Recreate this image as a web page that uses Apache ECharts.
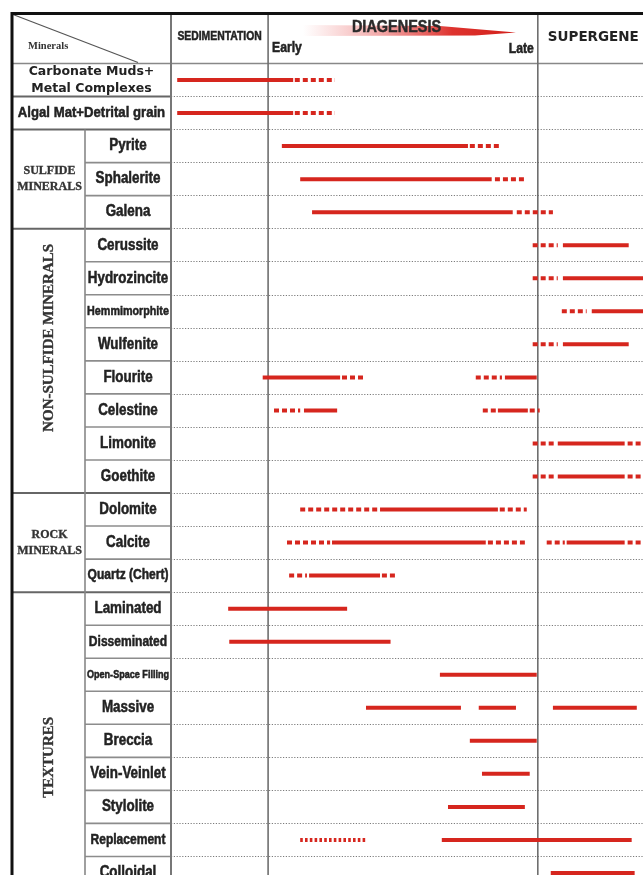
<!DOCTYPE html>
<html><head><meta charset="utf-8">
<script src="https://cdn.jsdelivr.net/npm/echarts@6/dist/echarts.min.js"></script>
<style>html,body{margin:0;padding:0;background:#fff;overflow:hidden;}#c{width:643px;height:875px;}</style>
</head><body><div id="c"></div>
<script>
// ---- DATA ----
// rows of the paragenetic table (top to bottom)
const categories = ['Carbonate Muds+\nMetal Complexes','Algal Mat+Detrital grain','Pyrite','Sphalerite','Galena',
  'Cerussite','Hydrozincite','Hemmimorphite','Wulfenite','Flourite','Celestine','Limonite','Goethite',
  'Dolomite','Calcite','Quartz (Chert)',
  'Laminated','Disseminated','Open-Space Filling','Massive','Breccia','Vein-Veinlet','Stylolite','Replacement','Colloidal'];
// mineral groups (row index ranges; Textures continues below the picture)
const groupNames = ['SULFIDE\nMINERALS','NON-SULFIDE MINERALS','ROCK\nMINERALS','TEXTURES'];
const groupFrom  = [2, 5, 13, 16];
const groupTo    = [4, 12, 15, 25];
// stages; relative time scale: 0 = early diagenesis, 100 = late diagenesis
const stages = ['SEDIMENTATION','DIAGENESIS','SUPERGENE'];
const stageBounds = [0, 100];
const diageneticSubLabels = ['Early','Late'];
// timing segments per row: [start, end, kind]  s = certain (solid), d = uncertain (dashed), o = dotted
const timing = [
  [[-33.7,9.3,'s'],[9.9,24.8,'d']],
  [[-33.7,9.3,'s'],[9.9,24.8,'d']],
  [[5.1,74.1,'s'],[74.8,85.9,'d']],
  [[11.9,82.9,'s'],[84.1,95.9,'d']],
  [[16.3,90.7,'s'],[92.2,105.6,'d']],
  [[98.1,107.4,'d'],[109.3,133.7,'s']],
  [[98.1,107.4,'d'],[109.3,140,'s']],
  [[108.9,118.1,'d'],[120,140,'s']],
  [[98.1,107.4,'d'],[109.3,133.7,'s']],
  [[-2,26.7,'s'],[27.4,35.9,'d'],[77,86.7,'d'],[87.8,99.6,'s']],
  [[2.2,11.9,'d'],[13.3,25.6,'s'],[79.6,84.8,'d'],[85.2,96.3,'s'],[97,100.7,'d']],
  [[98.1,107,'d'],[107.4,132.2,'s'],[133.3,140,'d']],
  [[98.1,107,'d'],[107.4,132.2,'s'],[133.3,140,'d']],
  [[11.9,40.7,'d'],[41.5,85.2,'s'],[85.9,95.9,'d']],
  [[7,23,'d'],[23.7,80.7,'s'],[81.5,95.2,'d'],[103.3,110,'d'],[110.7,132.2,'s'],[133.3,140,'d']],
  [[7.8,14.4,'d'],[15.2,41.5,'s'],[42.2,48.1,'d']],
  [[-14.8,29.3,'s']],
  [[-14.4,45.4,'s']],
  [[63.7,99.6,'s']],
  [[36.3,71.5,'s'],[78.1,91.9,'s'],[105.6,136.7,'s']],
  [[74.8,99.6,'s']],
  [[79.3,97,'s']],
  [[66.7,95.2,'s']],
  [[11.9,36.7,'o'],[64.4,134.8,'s']],
  [[104.8,135.9,'s']]
];

// ---- STYLE ----
const RED = '#d6261e';
const ARIAL = "'Liberation Sans','Arial',sans-serif";
const SANSB = "'DejaVu Sans','Verdana',sans-serif";
const SERIF = "'Liberation Serif','DejaVu Serif','Times New Roman',serif";
const kindCode = {s:0, d:1, o:2};
const DASH = [null, [5,3], [2.6,2.2]];
// label styles: [family, size, horizontal condensing]
const LS = {
  big:[SANSB, 12.5, 1], wide:[ARIAL, 15.3, 0.86], m:[ARIAL, 15.6, 0.86],
  s:[ARIAL, 14, 0.86], xs:[ARIAL, 12.5, 0.86], xxs:[ARIAL, 10.8, 0.84]
};
const labelStyleOf = {
  'Carbonate Muds+\nMetal Complexes':'big', 'Algal Mat+Detrital grain':'wide',
  'Hemmimorphite':'xs', 'Open-Space Filling':'xxs', 'Disseminated':'s', 'Replacement':'s', 'Quartz (Chert)':'s'
};
const groupYShift = [0, -23, 0, 0];

const segData = [];
timing.forEach((row, i) => row.forEach(s => segData.push([s[0], s[1], i, kindCode[s[2]]])));

const chart = echarts.init(document.getElementById('c'), null, {renderer:'canvas'});
const option = {
  backgroundColor:'#fff',
  animation:false,
  grid:{left:171, top:63.5, width:472, height:25*33.04, outerBoundsMode:'none', containLabel:false},
  xAxis:{type:'value', min:-36, max:139, show:false},
  yAxis:{type:'category', inverse:true, data:categories,
    axisLine:{show:false}, axisTick:{show:false}, axisLabel:{show:false},
    splitLine:{show:true, interval:0, lineStyle:{color:'#7c7c7c', width:1.2, type:[1.2,1.6]}}
  },
  series:[{
    type:'custom', z:5, clip:true, data:segData, encode:{x:[0,1], y:2},
    renderItem:(params, api) => {
      const r = api.value(2);
      const p1 = api.coord([api.value(0), r]);
      const p2 = api.coord([api.value(1), r]);
      const k = api.value(3);
      return {type:'line', shape:{x1:p1[0], y1:p1[1], x2:p2[0], y2:p2[1]},
        style:{stroke:RED, lineWidth:4, lineDash:DASH[k], lineCap:'butt'}};
    }
  }]
};
chart.setOption(option);

// ---- table structure from the axes ----
const yc = i => chart.convertToPixel({yAxisIndex:0}, i);
const xc = v => chart.convertToPixel({xAxisIndex:0}, v);
const rowH = yc(1) - yc(0);
const top0 = yc(0) - rowH/2;
const bound = i => top0 + i*rowH;
const L = 12, C1 = 85, C2 = 171, R = 643, T = 13.5, B = 875;
const xs0 = xc(stageBounds[0]), xs1 = xc(stageBounds[1]);
const G = [];
const line = (x1,y1,x2,y2,stroke,w,z) => G.push({type:'line', z:z||1, silent:true,
  shape:{x1,y1,x2,y2}, style:{stroke, lineWidth:w}});
const txt = (x, y, text, fam, size, sx, align, extra) => {
  const fill = (extra && extra.fill) || '#222';
  const st = {text, fontFamily:fam, fontWeight:'bold', fontSize:size, fill, align:align||'center', verticalAlign:'middle'};
  if (fam === ARIAL) { st.stroke = fill; st.lineWidth = 0.5; }
  G.push({type:'text', z:3, x, y, scaleX:sx, style:Object.assign(st, extra||{})});
};
const groupStarts = [1].concat(groupFrom);
for (let i = 1; i < categories.length; i++) {
  if (groupStarts.includes(i)) line(L, bound(i), C2, bound(i), '#666', 2);
  else line(C1, bound(i), C2, bound(i), '#8c8c8c', 1.6);
}
line(L, top0, R, top0, '#888', 1.6);
line(C1, bound(groupFrom[0]), C1, B, '#888', 1.6);
line(C2, T, C2, B, '#777', 2);
line(xs0, T, xs0, B, '#6e6e6e', 1.6);
line(xs1, T, xs1, B, '#6e6e6e', 1.6);
line(L+1, T+1, 138, top0-1, '#555', 1.2);
line(L, T, R, T, '#111', 3, 10);
line(L, T-1.5, L, B, '#111', 3, 10);
// row labels
categories.forEach((c, i) => {
  const st = LS[labelStyleOf[c] || 'm'];
  const cx = i < groupFrom[0] ? (L + C2) / 2 : (C1 + C2) / 2;
  txt(cx, yc(i), c, st[0], st[1], st[2], 'center', {lineHeight:17});
});
// group labels
groupNames.forEach((g, k) => {
  const yMid = (bound(groupFrom[k]) + bound(groupTo[k] + 1)) / 2 + groupYShift[k];
  const vertical = g.indexOf('\n') < 0;
  G.push({type:'text', z:3, x:(L+C1)/2 + 1, y:yMid, rotation: vertical ? Math.PI/2 : 0,
    style:{text:g, fontFamily:SERIF, fontWeight:'bold', fontSize: vertical ? 15 : 12, lineHeight:16,
      fill:'#333', stroke:'#333', lineWidth:0.35, align:'center', verticalAlign:'middle'}});
});
// header
txt(28, 46, 'Minerals', SERIF, 10.5, 1, 'left', {fill:'#333'});
txt((C2+xs0)/2, 37, stages[0], ARIAL, 12.5, 0.83);
G.push({type:'polygon', z:2, shape:{points:[[303,25],[440,26],[475,29],[516,32.5],[475,35.5],[303,36]]},
  style:{fill:{type:'linear', x:0, y:0, x2:1, y2:0, colorStops:[
    {offset:0, color:'rgba(235,90,90,0)'}, {offset:0.35, color:'rgba(228,70,70,0.45)'},
    {offset:0.7, color:'rgba(220,40,35,0.95)'}, {offset:1, color:'#d21f1a'}]}}});
txt(396.5, 27.5, stages[1], ARIAL, 17, 0.85, 'center', {fill:'#2a2a2a'});
txt(xs0 + 4, 48.5, diageneticSubLabels[0], ARIAL, 14, 0.87, 'left');
txt(xs1 - 4, 49.5, diageneticSubLabels[1], ARIAL, 14, 0.87, 'right');
txt(xs1 + 10, 37, stages[2], SANSB, 13.5, 1, 'left');
chart.setOption({graphic:{elements:G}});
</script>
</body></html>
